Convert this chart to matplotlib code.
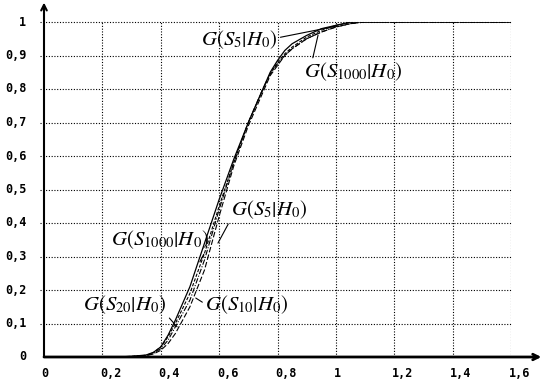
import matplotlib
matplotlib.use('Agg')
import matplotlib.pyplot as plt

plt.rcParams['mathtext.fontset'] = 'stix'

# values
x = [0.25, 0.30, 0.35, 0.375, 0.40, 0.425, 0.45, 0.50, 0.55, 0.60, 0.65, 0.70,
     0.75, 0.775, 0.80, 0.825, 0.85, 0.90, 0.95, 1.00, 1.05, 1.10, 1.60]
g_s1000 = [0, 0.002, 0.006, 0.014, 0.03, 0.065, 0.11, 0.21, 0.34, 0.47, 0.59, 0.70,
           0.80, 0.85, 0.885, 0.915, 0.935, 0.96, 0.98, 0.99, 1.0, 1.0, 1.0]
g_s20 = [0, 0.002, 0.005, 0.013, 0.03, 0.06, 0.10, 0.19, 0.31, 0.45, 0.58, 0.70,
         0.80, 0.845, 0.88, 0.905, 0.925, 0.955, 0.975, 0.99, 0.998, 1.0, 1.0]
g_s10 = [0, 0.001, 0.005, 0.011, 0.025, 0.05, 0.09, 0.17, 0.29, 0.44, 0.58, 0.70,
         0.80, 0.845, 0.875, 0.90, 0.92, 0.95, 0.97, 0.985, 0.995, 1.0, 1.0]
g_s5 = [0, 0.001, 0.004, 0.009, 0.02, 0.04, 0.07, 0.15, 0.26, 0.42, 0.57, 0.69,
        0.79, 0.84, 0.87, 0.90, 0.92, 0.95, 0.97, 0.985, 0.995, 1.0, 1.0]

x_ticks = [0, 0.2, 0.4, 0.6, 0.8, 1.0, 1.2, 1.4, 1.6]
x_labels = ['0', '0,2', '0,4', '0,6', '0,8', '1', '1,2', '1,4', '1,6']
y_ticks = [0, 0.1, 0.2, 0.3, 0.4, 0.5, 0.6, 0.7, 0.8, 0.9, 1.0]
y_labels = ['0', '0,1', '0,2', '0,3', '0,4', '0,5', '0,6', '0,7', '0,8', '0,9', '1']

fig = plt.figure(figsize=(5.45, 3.81), dpi=100)
ax = fig.add_axes([44 / 545, 24 / 381, 467 / 545, 335 / 381])
ax.set_xlim(0, 1.6)
ax.set_ylim(0, 1)
for s in ax.spines.values():
    s.set_visible(False)
ax.set_xticks([])
ax.set_yticks([])

# dotted grid
ax.hlines(y_ticks[1:], -0.012, 1.6, colors='black', linestyles=(0, (1, 1.5)), lw=0.8, clip_on=False)
ax.vlines(x_ticks[1:], 0, 1, colors='black', linestyles=(0, (1, 1.5)), lw=0.8)

# axes with arrows
ax.annotate('', xy=(1.065, 0), xytext=(0, 0), xycoords='axes fraction',
            arrowprops=dict(arrowstyle='->', lw=2, color='black', shrinkA=0, shrinkB=0))
ax.annotate('', xy=(0, 1.058), xytext=(0, 0), xycoords='axes fraction',
            arrowprops=dict(arrowstyle='->', lw=1.5, color='black', shrinkA=0, shrinkB=0))

ax.plot(x, g_s1000, color='black', lw=0.9, ls='-')
ax.plot(x, g_s20, color='black', lw=0.8, ls=(0, (3, 1.5)))
ax.plot(x, g_s10, color='black', lw=0.8, ls=(0, (5, 1.5, 1, 1.5)))
ax.plot(x, g_s5, color='black', lw=0.8, ls=(0, (5, 2)))

tick_font = dict(family='DejaVu Sans Mono', weight='bold', fontsize=8.5)
for xv, lab in zip(x_ticks, x_labels):
    ax.text(xv - 0.008, -0.048, lab, ha='left', va='center', **tick_font)
for yv, lab in zip(y_ticks, y_labels):
    ax.text(-0.06, yv, lab, ha='right', va='center', **tick_font)

lbl = dict(fontsize=15, ha='center', va='center', color='black')
line = dict(arrowstyle='-', lw=0.8, color='black', shrinkA=0, shrinkB=0)


def g_label(sub):
    return r'$G\left(S_{%s}\right|\left.H_0\right)$' % sub


ax.annotate(g_label('5'), xy=(1.004, 0.988), xytext=(0.67, 0.946),
            arrowprops=dict(relpos=(1, 0.6), **line), **lbl)
ax.annotate(g_label('1000'), xy=(0.939, 0.961), xytext=(1.06, 0.851),
            arrowprops=dict(relpos=(0.08, 1), **line), **lbl)
ax.annotate(g_label('5'), xy=(0.596, 0.340), xytext=(0.77, 0.439),
            arrowprops=dict(relpos=(0.02, 0.2), **line), **lbl)
ax.annotate(g_label('1000'), xy=(0.534, 0.284), xytext=(0.397, 0.349),
            arrowprops=dict(relpos=(0.98, 0.15), **line), **lbl)
ax.annotate(g_label('20'), xy=(0.456, 0.09), xytext=(0.277, 0.155),
            arrowprops=dict(relpos=(0.98, 0.15), **line), **lbl)
ax.annotate(g_label('10'), xy=(0.52, 0.176), xytext=(0.695, 0.155),
            arrowprops=dict(relpos=(0.0, 0.55), **line), **lbl)

fig.savefig('out.png', dpi=100)
